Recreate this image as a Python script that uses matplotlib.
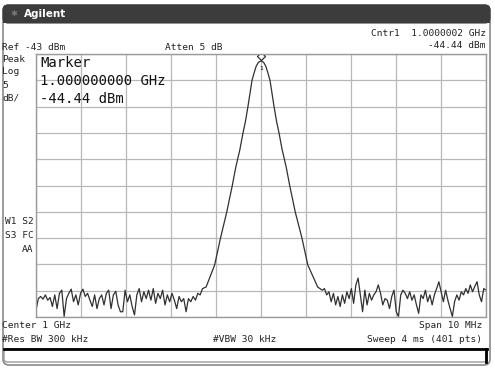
import numpy as np
import matplotlib
matplotlib.use("Agg")
import matplotlib.pyplot as plt
from matplotlib.patches import FancyBboxPatch, Rectangle

W, H = 495, 369
CENTER_MHZ = 1000.0
SPAN_MHZ = 10.0
REF_DBM = -43.0
DB_PER_DIV = 5.0
MARKER_DBM = -44.44

# trace (dBm); noise floor left / right of the carrier
noise_left = [-91.7, -89.5, -89.1, -89.6, -88.8, -89.8, -89.3, -91.0, -88.8, -91.4,
              -88.5, -87.9, -92.9, -89.5, -88.5, -87.7, -90.1, -88.8, -90.7, -88.5,
              -87.7, -89.1, -88.5, -89.8, -91.0, -88.8, -91.4, -89.5, -88.8, -90.7,
              -88.5, -87.9, -91.4, -88.8, -88.1, -90.7, -92.0,
              -92.0, -87.9, -90.1, -88.8, -91.0, -92.6, -88.8, -87.6, -90.1, -88.2,
              -89.5, -87.9, -89.8, -87.6, -90.4, -88.5, -89.5, -87.9, -90.7, -88.8,
              -90.1, -88.5, -89.8, -91.4, -89.1, -90.1, -89.5, -92.0, -89.5, -90.1,
              -89.1, -89.8, -88.5, -88.8, -87.6]
noise_right = [-87.9, -87.6, -88.8, -88.2, -90.1, -88.5, -90.7, -89.1, -91.0, -88.8,
               -90.4, -88.2, -89.5, -87.6, -90.4, -86.9, -85.6, -88.8, -92.0, -87.9,
               -90.7, -88.5, -89.8, -88.8, -88.2, -86.9, -88.5, -90.7, -89.5, -89.8,
               -91.4, -89.1,
               -87.9, -92.0, -92.9, -88.8, -87.9, -88.5, -89.5, -88.2, -89.8, -88.8,
               -90.7, -92.3, -88.8, -89.5, -87.9, -90.1, -88.8, -90.7, -88.8, -87.6,
               -86.3, -88.2, -90.1, -87.9, -89.8, -91.4, -92.9, -90.1, -88.8, -89.8,
               -88.2, -88.8, -87.6, -88.5, -86.9, -88.2, -87.2, -86.3, -88.8, -90.1,
               -87.6, -87.9]
# carrier response: offset from center (MHz) and level (dBm)
peak_offset = [-1.22, -1.03, -0.90, -0.76, -0.64, -0.56, -0.47, -0.40, -0.35, -0.29,
               -0.245, -0.20, -0.15, -0.11, -0.06, 0.0,
               0.06, 0.11, 0.15, 0.20, 0.245, 0.29, 0.35, 0.40, 0.47, 0.56, 0.64,
               0.76, 0.91, 1.04, 1.26]
peak_level = [-87.3, -83.1, -78.0, -73.0, -68.1, -64.5, -61.2, -58.0, -56.0, -53.0,
              -50.5, -48.0, -46.5, -45.4, -44.6, -44.3,
              -44.6, -45.4, -46.5, -48.0, -50.5, -53.0, -56.0, -58.0, -61.2, -64.5,
              -68.1, -73.0, -78.0, -83.1, -87.3]

f_left = np.linspace(-5.0, -1.30, len(noise_left))
f_right = np.linspace(1.36, 5.0, len(noise_right))
freq = CENTER_MHZ + np.concatenate([f_left, peak_offset, f_right])
level = np.concatenate([noise_left, peak_level, noise_right])

fig = plt.figure(figsize=(W / 100, H / 100), dpi=100)

# screen furniture in pixel coordinates
bg = fig.add_axes([0, 0, 1, 1], zorder=0)
bg.set_xlim(0, W)
bg.set_ylim(H, 0)
bg.axis("off")
bg.add_patch(FancyBboxPatch((3, 5), 487, 360, boxstyle="round,pad=0,rounding_size=6",
                            fc="white", ec="#8a8a8a", lw=1.2))
bg.add_patch(FancyBboxPatch((3, 5), 487, 18, boxstyle="round,pad=0,rounding_size=5",
                            fc="#3c3c3c", ec="#3c3c3c", lw=0.8))
bg.add_patch(Rectangle((3, 16), 487, 7, fc="#3c3c3c", ec="none"))
bg.text(10, 14, "\u2731", color="#777777", fontsize=6, va="center")
bg.text(24, 14, "Agilent", color="white", fontsize=7.5, fontweight="bold", va="center")
bg.add_patch(FancyBboxPatch((4, 349), 483, 13, boxstyle="round,pad=0,rounding_size=3",
                            fc="white", ec="#9a9a9a", lw=1))
bg.plot([4, 487], [349, 349], color="black", lw=2)
bg.plot([486, 486], [349, 362], color="black", lw=2)

mono = "DejaVu Sans Mono"
small = dict(family=mono, fontsize=6.8, color="#222222", va="center")
bg.text(2, 47, "Ref -43 dBm", **small)
bg.text(165, 47, "Atten 5 dB", **small)
bg.text(486, 33, "Cntr1  1.0000002 GHz", ha="right", **small)
bg.text(486, 46, "-44.44 dBm", ha="right", **small)
for y, s in [(60, "Peak"), (72, "Log"), (85, "5"), (98, "dB/")]:
    bg.text(2, y, s, **small)
bg.text(34, 222, "W1 S2", ha="right", **small)
bg.text(34, 235, "S3 FC", ha="right", **small)
bg.text(33, 249, "AA", ha="right", **small)
bg.text(2, 325, "Center 1 GHz", **small)
bg.text(482, 325, "Span 10 MHz", ha="right", **small)
bg.text(2, 339, "#Res BW 300 kHz", **small)
bg.text(213, 339, "#VBW 30 kHz", **small)
bg.text(482, 339, "Sweep 4 ms (401 pts)", ha="right", **small)

# the trace window
ax = fig.add_axes([36 / W, 1 - 317 / H, 450 / W, 263 / H], zorder=1)
ax.set_xlim(CENTER_MHZ - SPAN_MHZ / 2, CENTER_MHZ + SPAN_MHZ / 2)
bottom = REF_DBM - 10 * DB_PER_DIV
ax.set_ylim(bottom, REF_DBM)
ax.set_xticks(np.linspace(CENTER_MHZ - SPAN_MHZ / 2, CENTER_MHZ + SPAN_MHZ / 2, 11))
ax.set_yticks(np.linspace(bottom, REF_DBM, 11))
ax.tick_params(length=0, labelbottom=False, labelleft=False)
ax.grid(True, color="#b8b8b8", lw=0.9)
for sp in ax.spines.values():
    sp.set_color("#9a9a9a")
    sp.set_linewidth(1)
ax.plot(freq, level, color="#303030", lw=0.9)

ax.plot([CENTER_MHZ], [MARKER_DBM + 1.0], marker="D", ms=4, mfc="white",
        mec="#303030", mew=0.9)
ax.annotate("1", (CENTER_MHZ, MARKER_DBM), xytext=(0, -5), textcoords="offset points",
            ha="center", va="center", fontsize=4.5, family=mono)

# marker readout sits on top of the graticule
big = dict(family=mono, fontsize=10, color="#111111", va="center", zorder=5)
fig.text(40 / W, 1 - 63 / H, "Marker", **big)
fig.text(40 / W, 1 - 81 / H, "1.000000000 GHz", **big)
fig.text(40 / W, 1 - 99 / H, "-44.44 dBm", **big)

fig.savefig("out.png", dpi=100)
